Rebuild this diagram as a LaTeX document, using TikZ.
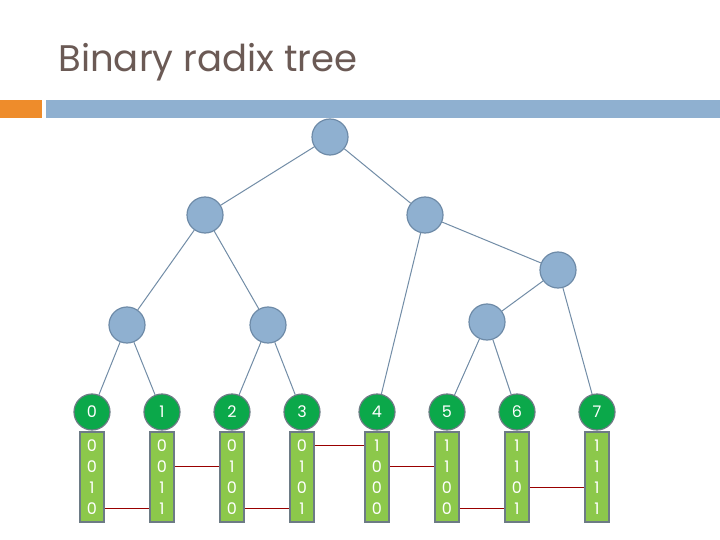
\documentclass[tikz,border=0pt]{standalone}
\usepackage{fontspec}
\setmainfont{Poppins}
\usetikzlibrary{backgrounds}
\definecolor{nodeblue}{HTML}{8FB0D0}
\definecolor{nodeedge}{HTML}{6E8BA8}
\definecolor{leafgreen}{HTML}{0BA84A}
\definecolor{bitgreen}{HTML}{8CC84B}
\definecolor{bitedge}{HTML}{6D7B85}
\definecolor{titlecol}{HTML}{6B5A55}
\tikzset{
  inner/.style={circle, draw=nodeedge, fill=nodeblue, line width=1.2pt, minimum size=36pt, inner sep=0pt},
  leaf/.style={circle, draw=bitedge, fill=leafgreen, line width=1.2pt, minimum size=36pt, inner sep=0pt, text=white, font=\fontsize{16}{16}\selectfont},
  bits/.style={draw=bitedge, fill=bitgreen, line width=2pt, minimum width=24pt, minimum height=90pt, inner sep=0pt, text=white, align=center, font=\fontsize{16}{21}\selectfont},
  link/.style={nodeblue!80!black, line width=1pt},
  split/.style={red!60!black, line width=0.8pt}
}
\begin{document}
\begin{tikzpicture}[x=1pt, y=-1pt, background rectangle/.style={fill=white}, show background rectangle]
    \useasboundingbox (0,0) rectangle (720,540);
    \node[anchor=base west, text=titlecol, font=\fontsize{37}{37}\selectfont] (title) at (55,72) {Binary radix tree};
    \fill[orange!70!brown!90] (0,100) rectangle (42,118);
    \fill[nodeblue] (46,100) rectangle (720,118);

    % leaves and bit columns
    \foreach \i/\x/\b in {0/92/{0\\0\\1\\0}, 1/162/{0\\0\\1\\1}, 2/232/{0\\1\\0\\0}, 3/302/{0\\1\\0\\1},
                          4/377/{1\\0\\0\\0}, 5/447/{1\\1\\0\\0}, 6/517/{1\\1\\0\\1}, 7/597/{1\\1\\1\\1}} {
        \node[bits] (b\i) at (\x,477) {\b};
        \node[leaf] (l\i) at (\x,412) {\i};
    }

    % internal nodes
    \node[inner] (r) at (330,137) {};
    \node[inner] (a) at (205,215) {};
    \node[inner] (c) at (425,215) {};
    \node[inner] (d) at (558,270) {};
    \node[inner] (e) at (127,325) {};
    \node[inner] (f) at (268,325) {};
    \node[inner] (g) at (487,322) {};

    \draw[link] (r) -- (a);  \draw[link] (r) -- (c);
    \draw[link] (a) -- (e);  \draw[link] (a) -- (f);
    \draw[link] (e) -- (l0); \draw[link] (e) -- (l1);
    \draw[link] (f) -- (l2); \draw[link] (f) -- (l3);
    \draw[link] (c) -- (l4); \draw[link] (c) -- (d);
    \draw[link] (d) -- (g);  \draw[link] (d) -- (l7);
    \draw[link] (g) -- (l5); \draw[link] (g) -- (l6);

    % split positions
    \foreach \p/\q/\y in {0/1/508, 1/2/466, 2/3/508, 3/4/445, 4/5/466, 5/6/508, 6/7/487} {
        \draw[split] (b\p.east |- 0,\y) -- (b\q.west |- 0,\y);
    }
\end{tikzpicture}
\end{document}
